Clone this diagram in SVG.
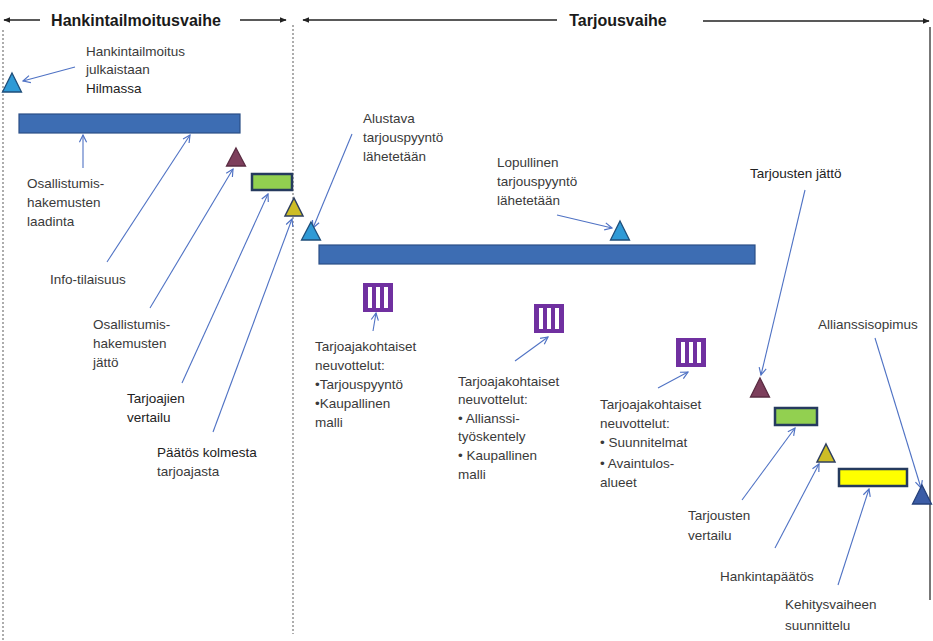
<svg xmlns="http://www.w3.org/2000/svg" width="933" height="641" viewBox="0 0 933 641">
<style>
.t{font-family:"Liberation Sans",Arial,sans-serif;font-size:13.5px;fill:#3a3a3a}
.h{font-family:"Liberation Sans",Arial,sans-serif;font-size:16px;font-weight:bold;fill:#1a1a1a}
.c{fill:none;stroke:#4f72c4;stroke-width:1.1}
.bar{fill:#3d6db3;stroke:#2b4f86;stroke-width:1.2}
.tb{fill:#2f9ad6;stroke:#1f4e79;stroke-width:1.3}
.tm{fill:#7d3f5c;stroke:#5a2c42;stroke-width:1.3}
.ty{fill:#cdbd26;stroke:#2f3f5f;stroke-width:1.5}
.rg{fill:#92d050;stroke:#253a5e;stroke-width:2.5}
.ry{fill:#ffff00;stroke:#253a5e;stroke-width:2.5}
.ic{fill:#7030a0}
.icw{fill:#ffffff}
.hd{stroke:#222;stroke-width:1.3;fill:none}
.dot{stroke:#777;stroke-width:1.2;stroke-dasharray:2 2;fill:none}
</style>
<defs>
<marker id="a" viewBox="0 0 10 10" refX="9" refY="5" markerWidth="9" markerHeight="9" orient="auto" markerUnits="userSpaceOnUse">
<path d="M1,1 L9,5 L1,9" fill="none" stroke="#4f72c4" stroke-width="1.3"/>
</marker>
<marker id="k" viewBox="0 0 10 10" refX="9" refY="5" markerWidth="7" markerHeight="7" orient="auto" markerUnits="userSpaceOnUse">
<path d="M0,1 L10,5 L0,9 z" fill="#222"/>
</marker>
<g id="icon"><rect class="ic" x="0" y="0" width="30" height="29"/><rect class="icw" x="5" y="4" width="4" height="21"/><rect class="icw" x="13" y="4" width="4" height="21"/><rect class="icw" x="21" y="4" width="4" height="21"/></g>
</defs>
<rect x="0" y="0" width="933" height="641" fill="#ffffff"/>

<g id="frame">
<line class="dot" x1="3" y1="30" x2="3" y2="641"/>
<line class="dot" x1="293" y1="25" x2="293" y2="634"/>
<line x1="930" y1="27" x2="930" y2="600" stroke="#555" stroke-width="1.6"/>
</g>

<g id="headers">
<line class="hd" x1="40" y1="20" x2="4" y2="20" marker-end="url(#k)"/>
<text class="h" x="136" y="26" text-anchor="middle">Hankintailmoitusvaihe</text>
<line class="hd" x1="240" y1="20" x2="286" y2="20" marker-end="url(#k)"/>
<line class="hd" x1="557" y1="20" x2="303" y2="20" marker-end="url(#k)"/>
<text class="h" x="618" y="26" text-anchor="middle">Tarjousvaihe</text>
<line class="hd" x1="703" y1="21" x2="929" y2="21" marker-end="url(#k)"/>
</g>

<g id="connectors">
<line class="c" x1="75" y1="67" x2="23" y2="81" marker-end="url(#a)"/>
<line class="c" x1="83" y1="168" x2="83" y2="135" marker-end="url(#a)"/>
<line class="c" x1="107" y1="262" x2="190" y2="135" marker-end="url(#a)"/>
<line class="c" x1="150" y1="308" x2="233" y2="169" marker-end="url(#a)"/>
<line class="c" x1="182" y1="383" x2="268" y2="194" marker-end="url(#a)"/>
<line class="c" x1="213" y1="432" x2="292" y2="219" marker-end="url(#a)"/>
<line class="c" x1="352" y1="134" x2="313" y2="228" marker-end="url(#a)"/>
<line class="c" x1="557" y1="215" x2="612" y2="228" marker-end="url(#a)"/>
<line class="c" x1="373" y1="331" x2="376" y2="313" marker-end="url(#a)"/>
<line class="c" x1="515" y1="361" x2="548" y2="337" marker-end="url(#a)"/>
<line class="c" x1="658" y1="388" x2="688" y2="372" marker-end="url(#a)"/>
<line class="c" x1="805" y1="190" x2="761" y2="375" marker-end="url(#a)"/>
<line class="c" x1="875" y1="338" x2="921" y2="488" marker-end="url(#a)"/>
<line class="c" x1="742" y1="500" x2="795" y2="428" marker-end="url(#a)"/>
<line class="c" x1="775" y1="548" x2="819" y2="464" marker-end="url(#a)"/>
<line class="c" x1="838" y1="585" x2="869" y2="489" marker-end="url(#a)"/>
</g>

<g id="n-hilma"><polygon class="tb" points="12,73 21.5,92 2.5,92"/></g>
<g id="n-bar1"><rect class="bar" x="19" y="114" width="221" height="19"/></g>
<g id="n-jatto1"><polygon class="tm" points="236,148 245.5,166 226.5,166"/></g>
<g id="n-vertailu1"><rect class="rg" x="252" y="174" width="40" height="16"/></g>
<g id="n-paatos1"><polygon class="ty" points="294,198 303,216 285,216"/></g>
<g id="n-alustava"><polygon class="tb" points="311,222 320.5,240 301.5,240"/></g>
<g id="n-bar2"><rect class="bar" x="319" y="245" width="436" height="19"/></g>
<g id="n-lopullinen"><polygon class="tb" points="620,221 629.5,240 610.5,240"/></g>
<g id="n-icon1"><use href="#icon" x="363" y="283"/></g>
<g id="n-icon2"><use href="#icon" x="534" y="304"/></g>
<g id="n-icon3"><use href="#icon" x="676" y="338"/></g>
<g id="n-jatto2"><polygon class="tm" points="760,378 769.5,397 750.5,397"/></g>
<g id="n-vertailu2"><rect class="rg" x="775" y="408" width="42" height="17"/></g>
<g id="n-paatos2"><polygon class="ty" points="826,444 835,462 817,462"/></g>
<g id="n-kehitys"><rect class="ry" x="839" y="469" width="68" height="17"/></g>
<g id="n-allianssi"><polygon points="922,485 931.5,504 912.5,504" fill="#3b5ca6" stroke="#26407a" stroke-width="1.3"/></g>

<g id="labels">
<text class="t" x="86" y="56">Hankintailmoitus</text>
<text class="t" x="86" y="74">julkaistaan</text>
<text class="t" x="86" y="93" style="fill:#222">Hilmassa</text>
<text class="t" x="27" y="188">Osallistumis-</text>
<text class="t" x="27" y="207">hakemusten</text>
<text class="t" x="27" y="226">laadinta</text>
<text class="t" x="50" y="284">Info-tilaisuus</text>
<text class="t" x="93" y="329">Osallistumis-</text>
<text class="t" x="93" y="348">hakemusten</text>
<text class="t" x="93" y="367">jättö</text>
<text class="t" x="127" y="403" style="fill:#222">Tarjoajien</text>
<text class="t" x="127" y="422" style="fill:#222">vertailu</text>
<text class="t" x="157" y="457" style="fill:#222">Päätös kolmesta</text>
<text class="t" x="157" y="476">tarjoajasta</text>
<text class="t" x="363" y="123">Alustava</text>
<text class="t" x="363" y="142">tarjouspyyntö</text>
<text class="t" x="363" y="161">lähetetään</text>
<text class="t" x="497" y="167">Lopullinen</text>
<text class="t" x="497" y="186">tarjouspyyntö</text>
<text class="t" x="497" y="205">lähetetään</text>
<text class="t" x="750" y="178" style="fill:#222">Tarjousten jättö</text>
<text class="t" x="315" y="351">Tarjoajakohtaiset</text>
<text class="t" x="315" y="370">neuvottelut:</text>
<text class="t" x="315" y="389">•Tarjouspyyntö</text>
<text class="t" x="315" y="408">•Kaupallinen</text>
<text class="t" x="315" y="427">malli</text>
<text class="t" x="458" y="386">Tarjoajakohtaiset</text>
<text class="t" x="458" y="404">neuvottelut:</text>
<text class="t" x="458" y="423">• Allianssi-</text>
<text class="t" x="458" y="441">työskentely</text>
<text class="t" x="458" y="460">• Kaupallinen</text>
<text class="t" x="458" y="479">malli</text>
<text class="t" x="600" y="409">Tarjoajakohtaiset</text>
<text class="t" x="600" y="428">neuvottelut:</text>
<text class="t" x="600" y="447">• Suunnitelmat</text>
<text class="t" x="600" y="468">• Avaintulos-</text>
<text class="t" x="600" y="487">alueet</text>
<text class="t" x="818" y="329">Allianssisopimus</text>
<text class="t" x="688" y="520">Tarjousten</text>
<text class="t" x="688" y="540">vertailu</text>
<text class="t" x="720" y="581">Hankintapäätös</text>
<text class="t" x="785" y="609">Kehitysvaiheen</text>
<text class="t" x="785" y="630">suunnittelu</text>
</g>
</svg>
